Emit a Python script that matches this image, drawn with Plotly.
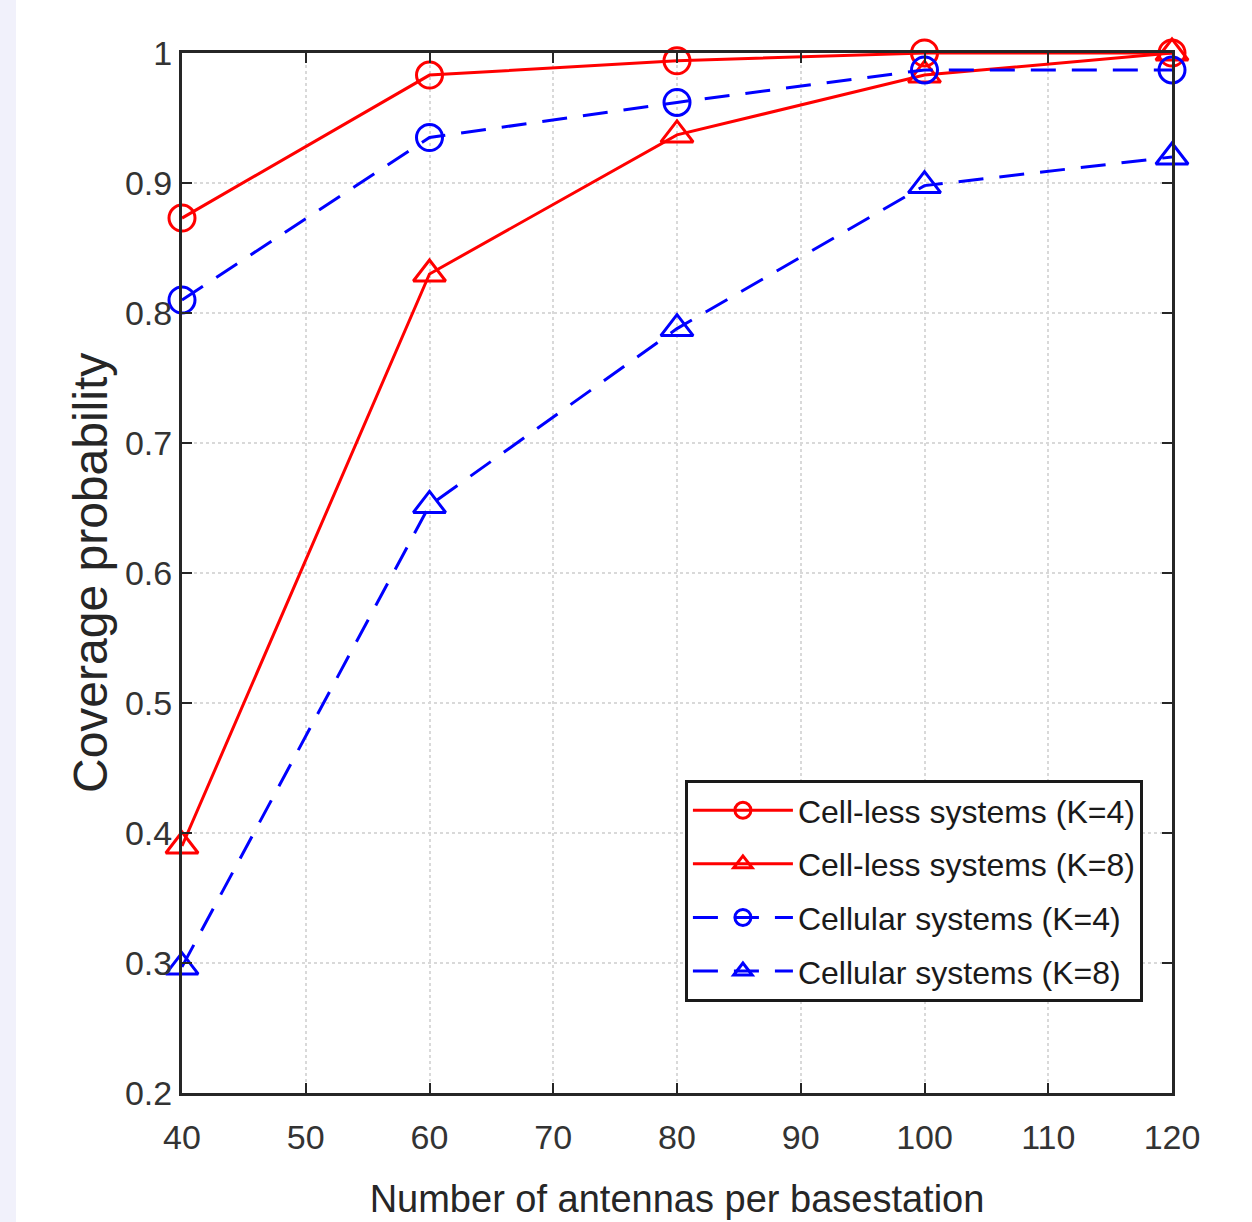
import plotly.graph_objects as go

antennas = [40, 60, 80, 100, 120]
cellless_k4 = [0.873, 0.983, 0.994, 1.0, 1.0]
cellless_k8 = [0.39, 0.83, 0.937, 0.983, 1.0]
cellular_k4 = [0.81, 0.935, 0.962, 0.987, 0.987]
cellular_k8 = [0.297, 0.652, 0.788, 0.898, 0.92]

names = ["Cell-less systems (K=4)", "Cell-less systems (K=8)",
         "Cellular systems (K=4)", "Cellular systems (K=8)"]
x_ticks = [40, 50, 60, 70, 80, 90, 100, 110, 120]
y_ticks = [0.2, 0.3, 0.4, 0.5, 0.6, 0.7, 0.8, 0.9, 1.0]
y_tick_labels = ["0.2", "0.3", "0.4", "0.5", "0.6", "0.7", "0.8", "0.9", "1"]
x_title = "Number of antennas per basestation"
y_title = "Coverage probability"

FONT = "Liberation Sans, Arial, sans-serif"

series = [
    (cellless_k4, names[0], "red", "solid", "circle-open", 26),
    (cellless_k8, names[1], "red", "solid", "triangle-up-open", 28),
    (cellular_k4, names[2], "blue", "25px,16px", "circle-open", 26),
    (cellular_k8, names[3], "blue", "25px,16px", "triangle-up-open", 28),
]

fig = go.Figure()
for i, (ys, nm, col, dash, sym, sz) in enumerate(series):
    fig.add_trace(go.Scatter(
        x=antennas, y=ys, name=nm, mode="lines+markers",
        legendgroup=f"g{i}",
        line=dict(color=col, width=3, dash=dash),
        marker=dict(symbol=sym, size=sz, color=col, line=dict(color=col, width=3)),
        cliponaxis=False,
    ))

axis_common = dict(
    showline=True, linecolor="#262626", linewidth=3, mirror="ticks",
    ticks="inside", ticklen=10, tickwidth=2, tickcolor="#262626",
    showgrid=True, gridcolor="#d9d9d9", griddash="dot", gridwidth=2,
    zeroline=False, automargin=False,
    tickfont=dict(family=FONT, size=34, color="#333333"),
)

fig.update_xaxes(
    range=[40, 120], tickvals=x_ticks, ticktext=[str(v) for v in x_ticks],
    ticklabelstandoff=12,
    title=dict(text=x_title,
               font=dict(family=FONT, size=38, color="#262626"), standoff=31),
    **axis_common,
)
fig.update_yaxes(
    range=[0.2, 1.0], tickvals=y_ticks, ticktext=y_tick_labels,
    **axis_common,
)

fig.update_layout(
    width=1252, height=1222,
    margin=dict(l=182, r=80, t=53, b=129),
    paper_bgcolor="white", plot_bgcolor="white",
    showlegend=True,
    legend=dict(
        x=0.508, y=0.301, xanchor="left", yanchor="top",
        bgcolor="white", bordercolor="#1a1a1a", borderwidth=3,
        font=dict(family=FONT, size=32, color="#1a1a1a"),
        itemwidth=100, traceorder="grouped", tracegroupgap=9,
    ),
    annotations=[dict(
        text=y_title, textangle=-90, xref="paper", yref="paper",
        x=(90 - 182) / 990, y=0.5, xanchor="center", yanchor="middle",
        showarrow=False, font=dict(family=FONT, size=48, color="#262626"),
    )],
    shapes=[dict(type="rect", xref="paper", yref="paper",
                 x0=-182/990, x1=-166/990, y0=-129/1040, y1=1 + 53/1040,
                 fillcolor="#f1f1fb", line=dict(width=0), layer="below")],
)

fig.write_html("out.html")
